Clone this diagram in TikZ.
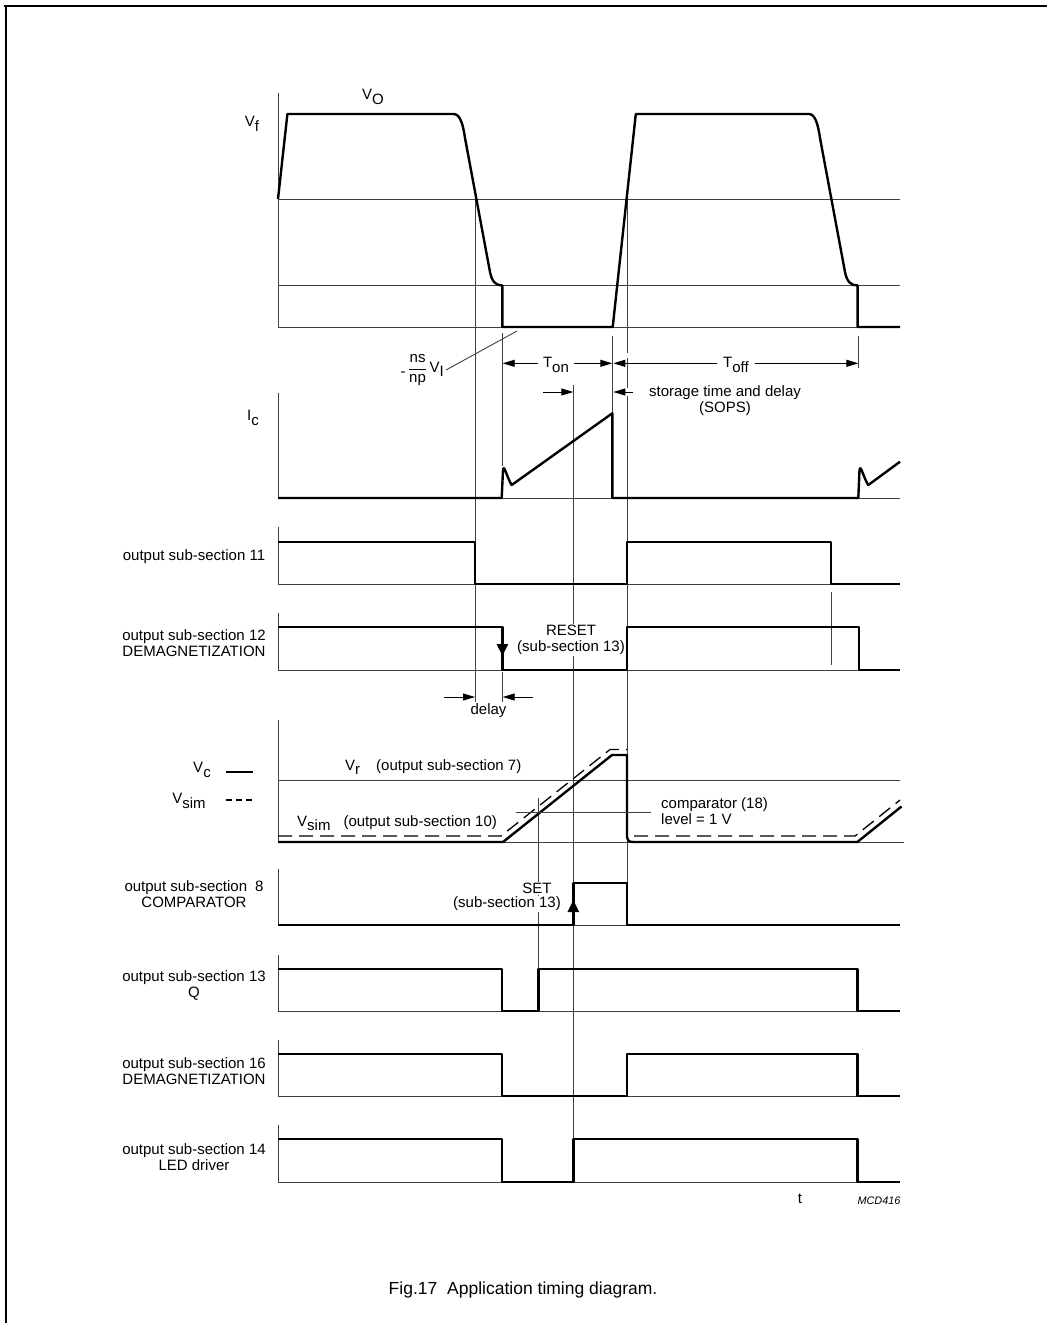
\documentclass[tikz,border=0pt]{standalone}
\usepackage{amsmath}
\usepackage{fontspec}
\setmainfont{Liberation Sans}
\usetikzlibrary{arrows.meta}
\newcommand{\lo}[1]{\raisebox{-0.3em}{#1}}
\newcommand{\lblfont}{\fontsize{15}{16}\selectfont}

\begin{document}
\begin{tikzpicture}[x=1pt, y=-1pt,
    wave/.style={line width=2.4pt, line join=round},
    guide/.style={line width=0.9pt, black!75},
    simwave/.style={line width=1.3pt, dash pattern=on 14pt off 7pt},
    dim/.style={-{Triangle[length=12pt,width=7pt]}, line width=0.9pt},
    edgetip/.style={-{Triangle[length=12pt,width=11pt]}, line width=2.4pt},
    lbl/.style={font=\lblfont, inner sep=1pt, align=center},
    tag/.style={lbl, fill=white}
]
    \useasboundingbox (0,0) rectangle (1047,1323);

    % frame
    \draw[line width=2pt] (4,6) -- (1047,6);
    \draw[line width=1.3pt] (6,6) -- (6,1323);

    % axes and levels
    \draw[guide] (278,93) -- (278,327) -- (900,327);
    \draw[guide] (278,199) -- (900,199);
    \draw[guide] (278,285.5) -- (900,285.5);
    \draw[guide] (278,393) -- (278,498) -- (900,498);
    \draw[guide] (278,720) -- (278,842) -- (904,842);
    \draw[guide] (278,780) -- (900,780);
    \foreach \ytop/\ybot in {527/584, 613/670, 869/925, 955/1011, 1040/1096, 1125/1182}
        \draw[guide] (278,\ytop) -- (278,\ybot) -- (900,\ybot);

    % timing guides
    \draw[guide] (475,199) -- (475,702);
    \draw[guide] (627,199) -- (627,353) (627,358) -- (627,388) (627,396) -- (627,925);
    \draw[guide] (502.7,333) -- (502.7,466);
    \draw[guide] (502.7,672) -- (502.7,702);
    \draw[guide] (612.3,336) -- (612.3,414);
    \draw[guide] (858.3,336) -- (858.3,368);
    \draw[guide] (573.3,385) -- (573.3,1139);
    \draw[guide] (538.3,798) -- (538.3,969);
    \draw[guide] (831,592) -- (831,665);

    % labels that hide the guides
    \node[tag] (reset) at (571,640) {RESET\\(sub-section 13)};
    \node[tag] (set) at (537,888.5) {SET};
    \node[tag] (setsub) at (507,904) {(sub-section 13)};

    % V_O
    \draw[wave] (278,199) -- (287.4,114) -- (453.6,114)
        .. controls (460,114) and (463,124) .. (465,138)
        -- (490,272) .. controls (492,282) and (496,285.5) .. (502.4,285.5)
        -- (502.4,327) -- (612.7,327) -- (635.8,114) -- (809,114)
        .. controls (815,114) and (818,124) .. (820,138)
        -- (845,272) .. controls (847,282) and (851,285.5) .. (857.6,285.5)
        -- (857.6,327) -- (900,327);

    % I_c
    \draw[wave] (278,498) -- (501.7,498) -- (503,470)
        .. controls (504,463) and (507,478) .. (511.7,485)
        -- (612.3,413.3) -- (612.3,498) -- (858.3,498) -- (859.5,470)
        .. controls (860.5,463) and (863.5,478) .. (868.3,485) -- (900,461.7);

    % digital outputs
    \draw[wave] (278,542) -| (475,584) -| (627,542) -| (831,584) -- (900,584);
    \draw[wave] (278,627) -| (502.4,670) -| (627,627) -| (859,670) -- (900,670);
    \draw[edgetip] (502.4,640) -- (502.4,656);
    \draw[wave] (278,925) -| (573.3,883) -| (627,925) -- (900,925);
    \draw[edgetip] (573.3,914) -- (573.3,900);
    \draw[wave] (278,969) -| (501.7,1011) -| (538.3,969) -| (857.3,1011) -- (900,1011);
    \draw[wave] (278,1054) -| (501.7,1096) -| (627,1054) -| (857.3,1096) -- (900,1096);
    \draw[wave] (278,1139) -| (501.7,1182) -| (573.3,1139) -| (857.3,1182) -- (900,1182);

    % V_c and V_sim
    \draw[wave] (278,842) -- (503,842) -- (612,755) -- (627,755) -- (627,837)
        .. controls (627,840) and (628.5,842) .. (633,842) -- (857.3,842) -- (901.5,806.5);
    \draw[simwave] (278,836) -- (501,836) -- (610,749.5) -- (627,749.5);
    \draw[simwave] (634,836) -- (855,836) -- (900,800);

    % signal names
    \node[lbl] (vf) at (252,124) {V\lo{f}};
    \node[lbl] (vo) at (373,97) {V\lo{O}};
    \node[lbl] (ic) at (253,418) {I\lo{c}};
    \node[lbl, anchor=east, inner sep=2pt] (ratio) at (446,370)
        {\lo{-}\,$\dfrac{\text{ns}}{\text{np}}$\,V\lo{I}};
    \coordinate (vlow) at (517,331);
    \draw[guide] (ratio.east) -- (vlow);

    \foreach \ypos/\txt [count=\i] in {557/{output sub-section 11},
            643/{output sub-section 12\\DEMAGNETIZATION},
            894/{output sub-section\hspace{8pt}8\\COMPARATOR},
            985/{output sub-section 13\\Q},
            1071/{output sub-section 16\\DEMAGNETIZATION},
            1157/{output sub-section 14\\LED driver}}
        \node[lbl] (out\i) at (194,\ypos) {\txt};

    \node[lbl] (vcl) at (202,770) {V\lo{c}};
    \node[lbl] (vsl) at (189,801) {V\lo{sim}};
    \draw[wave] (226,772) -- (253,772);
    \draw[line width=1.3pt, dash pattern=on 6pt off 4pt] (226,800) -- (253,800);

    \node[lbl, anchor=base west, inner sep=0pt] (vr) at (345,770)
        {V\lo{r}\hspace{16pt}(output sub-section 7)};
    \node[lbl, anchor=base west, inner sep=0pt] (vsim) at (297,826)
        {V\lo{sim}\hspace{13pt}(output sub-section 10)};
    \node[lbl, anchor=west, align=left, inner sep=0pt] (cmp) at (661,811.5)
        {comparator (18)\\level = 1 V};
    \coordinate (cmpA) at (516,812);
    \draw[guide, shorten >=10pt] (cmpA) -- (cmp.west |- cmpA);

    % T_on / T_off
    \node[lbl, inner sep=5pt] (ton) at (556,365) {T\lo{on}};
    \node[lbl, inner sep=6pt] (toff) at (736,365) {T\lo{off}};
    \coordinate (onA) at (502.7,363.3);
    \coordinate (onB) at (612.3,363.3);
    \coordinate (offA) at (613.3,363.3);
    \coordinate (offB) at (858.3,363.3);
    \draw[dim] (ton.west |- onA) -- (onA);
    \draw[dim] (ton.east |- onB) -- (onB);
    \draw[dim] (toff.west |- offA) -- (offA);
    \draw[dim] (toff.east |- offB) -- (offB);

    % storage time
    \node[lbl] (stor) at (725,401) {storage time and delay\\(SOPS)};
    \coordinate (stL) at (543,392);
    \coordinate (stR) at (573.3,392);
    \coordinate (stS) at (633,392);
    \coordinate (stE) at (613.3,392);
    \draw[dim] (stL) -- (stR);
    \draw[dim] (stS) -- (stE);

    % delay
    \node[lbl] (dly) at (488.5,711) {delay};
    \coordinate (dl1) at (444,697);
    \coordinate (dl2) at (475,697);
    \coordinate (dr1) at (533,697);
    \coordinate (dr2) at (502.7,697);
    \draw[dim] (dl1) -- (dl2);
    \draw[dim] (dr1) -- (dr2);

    \node[lbl] (tlab) at (800,1199) {t};
    \node[font=\fontsize{10.9}{12}\selectfont\itshape, inner sep=0pt] (mcd) at (879,1201) {MCD416};
    \node[font=\fontsize{17.5}{20}\selectfont] (cap) at (523,1290) {Fig.17\hspace{5pt} Application timing diagram.};
\end{tikzpicture}
\end{document}
